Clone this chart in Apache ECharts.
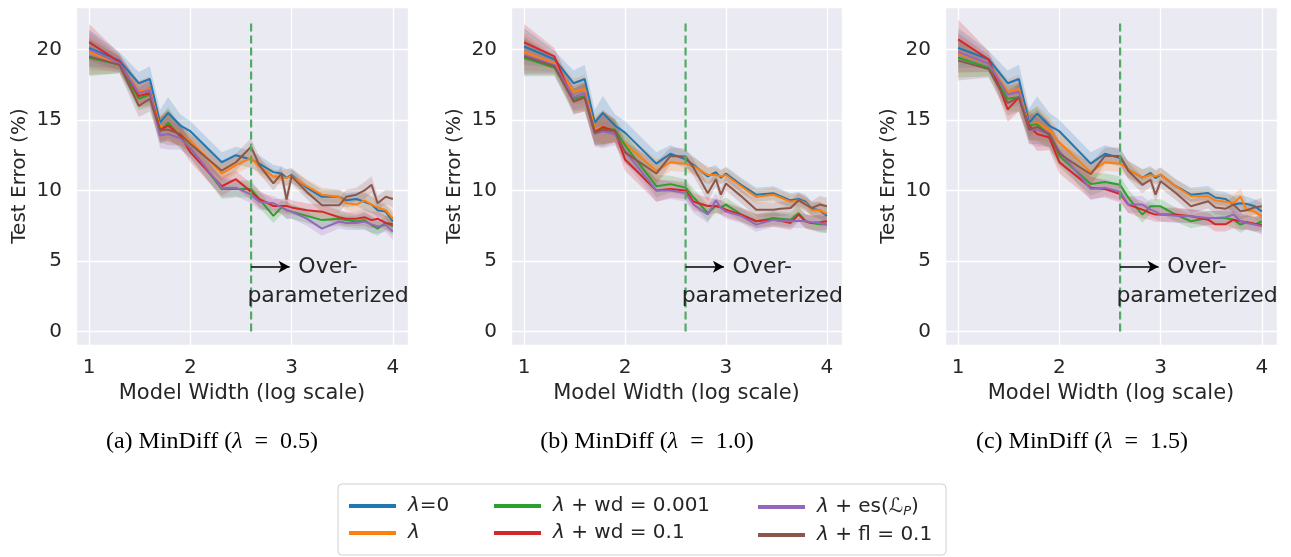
<!DOCTYPE html>
<html>
<head>
<meta charset="utf-8">
<script src="https://cdn.jsdelivr.net/npm/echarts@6/dist/echarts.min.js"></script>
<style>
html,body{margin:0;padding:0;background:#fff;}
#chart{width:1291px;height:557px;}
</style>
</head>
<body>
<div id="chart"></div>
<script>
// ---------- DATA ----------
const X = [1.0, 1.3, 1.49, 1.6, 1.7, 1.78, 1.9, 2.0, 2.31, 2.45, 2.6, 2.68, 2.82, 2.9, 2.95, 3.0, 3.15, 3.3, 3.47, 3.54, 3.64, 3.72, 3.79, 3.85, 3.93, 4.0];

const SERIES_NAMES = ['λ=0', 'λ', 'λ + wd = 0.001', 'λ + wd = 0.1', 'λ + es(ℒP)', 'λ + fl = 0.1'];

// Panel (a) MinDiff λ = 0.5
const A_LAMBDA0 = [20.1, 19.2, 17.6, 17.9, 14.8, 15.5, 14.6, 14.2, 12.0, 12.5, 12.2, 11.9, 11.3, 11.2, 10.9, 11.1, 10.2, 9.55, 9.55, 9.3, 9.4, 9.2, 9.0, 8.6, 8.5, 7.8];
const A_LAMBDA  = [19.8, 19.0, 17.0, 17.2, 14.5, 14.6, 14.0, 13.5, 11.2, 11.8, 12.3, 11.7, 11.0, 10.9, 10.9, 11.0, 10.3, 9.7, 9.55, 9.1, 9.0, 9.3, 9.0, 8.8, 8.6, 8.0];
const A_WD001   = [19.4, 18.9, 16.5, 16.8, 14.2, 14.8, 13.8, 13.0, 10.1, 10.1, 10.1, 9.4, 8.2, 8.8, 8.6, 8.5, 8.2, 7.9, 8.0, 7.9, 7.8, 7.9, 7.55, 7.3, 7.7, 7.45];
const A_WD01    = [20.5, 19.1, 16.7, 16.9, 14.3, 14.6, 13.9, 12.7, 10.3, 10.8, 9.9, 9.4, 8.9, 8.9, 8.9, 8.8, 8.6, 8.5, 8.1, 8.0, 8.0, 8.1, 7.9, 8.0, 7.7, 7.6];
const A_ES      = [20.0, 19.0, 16.9, 17.1, 13.9, 14.0, 13.7, 13.0, 10.2, 10.2, 9.7, 9.2, 9.1, 8.8, 8.6, 8.5, 8.0, 7.3, 7.8, 7.7, 7.7, 7.8, 7.6, 7.45, 7.55, 7.1];
const A_FL      = [19.5, 18.9, 16.0, 16.5, 14.3, 14.3, 14.0, 13.3, 11.4, 12.0, 13.1, 11.8, 10.5, 11.2, 9.35, 11.0, 9.9, 8.95, 8.95, 9.55, 9.7, 10.0, 10.4, 9.1, 9.55, 9.4];
const A_SPREAD  = [1.3, 0.6, 0.8, 0.9, 0.9, 1.1, 0.8, 0.7, 0.7, 0.6, 0.6, 0.6, 0.5, 0.5, 0.6, 0.5, 0.5, 0.5, 0.5, 0.5, 0.5, 0.6, 0.6, 0.5, 0.5, 0.6];

// Panel (b) MinDiff λ = 1.0
const B_LAMBDA0 = [20.2, 19.3, 17.6, 17.9, 14.8, 15.5, 14.6, 14.1, 11.9, 12.6, 12.2, 11.8, 11.0, 11.3, 10.9, 11.2, 10.4, 9.7, 9.8, 9.6, 9.3, 9.4, 9.2, 8.7, 8.6, 8.2];
const B_LAMBDA  = [19.8, 19.0, 17.0, 17.2, 14.4, 14.5, 14.2, 13.3, 11.4, 12.0, 11.9, 11.7, 11.1, 11.1, 11.0, 11.1, 10.3, 9.55, 9.7, 9.5, 9.2, 9.3, 9.1, 8.6, 8.6, 8.35];
const B_WD001   = [19.4, 18.7, 16.5, 16.7, 14.2, 14.4, 14.3, 13.2, 10.3, 10.45, 10.2, 9.5, 8.4, 8.9, 8.8, 9.0, 8.3, 7.82, 8.05, 8.0, 7.93, 8.4, 7.8, 7.7, 7.6, 7.58];
const B_WD01    = [20.5, 19.5, 16.3, 16.6, 14.1, 14.5, 14.2, 12.2, 10.0, 10.1, 10.0, 9.2, 8.9, 8.9, 8.8, 8.64, 8.29, 7.82, 7.93, 7.85, 7.7, 8.29, 7.82, 7.7, 7.75, 7.82];
const B_ES      = [19.6, 18.9, 16.6, 16.9, 14.0, 14.2, 14.0, 12.8, 10.0, 10.0, 9.82, 9.0, 8.3, 9.3, 8.76, 8.5, 8.2, 7.58, 7.93, 7.85, 7.82, 7.85, 7.82, 7.75, 7.7, 7.58];
const B_FL      = [19.5, 18.8, 16.3, 16.6, 14.1, 14.3, 14.2, 12.7, 11.2, 12.45, 12.4, 11.6, 9.8, 10.8, 9.7, 10.5, 9.6, 8.64, 8.64, 8.7, 8.76, 9.3, 9.0, 8.76, 9.0, 8.88];
const B_SPREAD  = [1.3, 0.6, 0.9, 1.0, 0.9, 1.2, 0.8, 0.8, 0.8, 0.6, 0.6, 0.6, 0.6, 0.5, 0.5, 0.5, 0.5, 0.5, 0.5, 0.5, 0.5, 0.5, 0.5, 0.5, 0.6, 0.6];

// Panel (c) MinDiff λ = 1.5
const C_LAMBDA0 = [20.1, 19.3, 17.6, 17.9, 14.8, 15.45, 14.6, 14.2, 11.9, 12.6, 12.3, 11.5, 10.9, 11.24, 10.88, 11.12, 10.3, 9.7, 9.82, 9.5, 9.4, 9.0, 9.1, 9.05, 8.88, 8.52];
const C_LAMBDA  = [19.7, 19.0, 17.0, 17.2, 14.6, 14.8, 14.3, 13.4, 11.3, 12.0, 11.9, 11.5, 10.9, 11.1, 11.0, 11.12, 10.3, 9.59, 9.59, 9.3, 9.2, 9.11, 9.55, 8.64, 8.5, 8.17];
const C_WD001   = [19.4, 18.7, 16.5, 16.6, 14.6, 14.7, 13.9, 12.45, 10.45, 10.6, 10.4, 9.5, 8.29, 8.88, 8.88, 8.88, 8.29, 7.82, 8.05, 8.05, 8.05, 7.93, 7.58, 7.75, 7.58, 7.82];
const C_WD01    = [20.7, 19.3, 15.75, 16.6, 14.6, 14.0, 13.75, 12.0, 10.2, 10.1, 9.75, 9.0, 8.64, 8.4, 8.29, 8.29, 8.29, 8.17, 7.93, 7.6, 7.6, 7.93, 7.82, 7.75, 7.65, 7.58];
const C_ES      = [19.8, 19.0, 16.8, 17.0, 14.3, 14.3, 14.0, 12.8, 10.1, 10.2, 9.9, 9.0, 9.0, 8.64, 8.5, 8.29, 8.2, 8.17, 8.05, 8.05, 8.1, 8.29, 7.82, 7.7, 7.58, 7.46];
const C_FL      = [19.2, 18.6, 16.2, 16.6, 14.3, 14.5, 14.0, 12.6, 11.15, 12.45, 12.45, 11.4, 10.4, 10.76, 9.7, 10.65, 9.82, 8.88, 9.23, 8.8, 8.7, 9.0, 8.52, 8.6, 8.8, 8.88];
const C_SPREAD  = [1.4, 0.6, 0.9, 1.0, 1.0, 1.2, 0.9, 0.8, 0.8, 0.6, 0.6, 0.6, 0.6, 0.5, 0.5, 0.5, 0.5, 0.5, 0.5, 0.5, 0.5, 0.6, 0.6, 0.5, 0.5, 0.6];

const X_TICKS = [1, 2, 3, 4];
const Y_TICKS = [0, 5, 10, 15, 20];
const CAPTION_LETTERS = ['a', 'b', 'c'];
const CAPTION_LAMBDAS = ['0.5', '1.0', '1.5'];

// annotation (data coordinates)
const VLINE_X = 2.6;
const VLINE_Y = [0, 22];
const ARROW_FROM = [2.6, 4.6];
const ARROW_TO = [2.98, 4.6];
const ANNOT_POS = [3.36, 3.5];
const ANNOT_TEXT = 'Over-\nparameterized';

// ---------- STYLE / LAYOUT ----------
const COLORS = ['#1f77b4', '#ff7f0e', '#2ca02c', '#d62728', '#9467bd', '#8c564b'];
const PANELS = [
  { vals: [A_LAMBDA0, A_LAMBDA, A_WD001, A_WD01, A_ES, A_FL], spread: A_SPREAD, left: 76, width: 332, cap: 212 },
  { vals: [B_LAMBDA0, B_LAMBDA, B_WD001, B_WD01, B_ES, B_FL], spread: B_SPREAD, left: 511, width: 331, cap: 647 },
  { vals: [C_LAMBDA0, C_LAMBDA, C_WD001, C_WD01, C_ES, C_FL], spread: C_SPREAD, left: 945, width: 332, cap: 1082 }
];
const TEXT_COLOR = '#262626';
const FONT = 'DejaVu Sans';

const grids = [], xAxes = [], yAxes = [], series = [], graphics = [];

PANELS.forEach((p, pi) => {
  grids.push({ left: p.left, top: 7, width: p.width, height: 338, show: true, backgroundColor: '#EAEAF2', borderWidth: 0 });
  xAxes.push({
    gridIndex: pi, type: 'value', min: 0.87, max: 4.15, minInterval: 1, maxInterval: 1,
    axisLine: { show: false }, axisTick: { show: false },
    splitLine: { show: true, lineStyle: { color: '#ffffff', width: 1.3 } },
    axisLabel: { fontSize: 20, color: TEXT_COLOR, margin: 13, fontFamily: FONT,
      formatter: v => X_TICKS.some(t => Math.abs(t - v) < 1e-6) ? String(Math.round(v)) : '' },
    name: 'Model Width (log scale)', nameLocation: 'middle', nameGap: 38,
    nameTextStyle: { fontSize: 21, color: TEXT_COLOR, fontFamily: FONT }
  });
  yAxes.push({
    gridIndex: pi, type: 'value', min: -0.95, max: 23, minInterval: 5, maxInterval: 5,
    axisLine: { show: false }, axisTick: { show: false },
    splitLine: { show: true, lineStyle: { color: '#ffffff', width: 1.3 } },
    axisLabel: { fontSize: 20, color: TEXT_COLOR, margin: 14, fontFamily: FONT,
      formatter: v => Y_TICKS.some(t => Math.abs(t - v) < 1e-6) ? String(Math.round(v)) : '' },
    name: 'Test Error (%)', nameLocation: 'middle', nameGap: 46,
    nameTextStyle: { fontSize: 20, color: TEXT_COLOR, fontFamily: FONT }
  });

  // confidence bands
  p.vals.forEach((vals, k) => {
    series.push({
      type: 'custom', xAxisIndex: pi, yAxisIndex: pi, silent: true, z: 1, clip: true,
      data: [[X[0], vals[0]]],
      renderItem: (params, api) => {
        const up = X.map((x, i) => api.coord([x, vals[i] + p.spread[i]]));
        const lo = X.map((x, i) => api.coord([x, vals[i] - p.spread[i]])).reverse();
        return { type: 'polygon', shape: { points: up.concat(lo) },
          style: { fill: COLORS[k], opacity: 0.2 } };
      }
    });
  });
  // mean lines
  p.vals.forEach((vals, k) => {
    series.push({
      type: 'line', name: SERIES_NAMES[k], xAxisIndex: pi, yAxisIndex: pi, z: 3,
      data: X.map((x, i) => [x, vals[i]]),
      symbol: 'none', showSymbol: false, color: COLORS[k],
      lineStyle: { width: 2, color: COLORS[k] }, silent: true
    });
  });
  // dashed vertical line + annotation
  series.push({
    type: 'line', name: '_vline' + pi, xAxisIndex: pi, yAxisIndex: pi, z: 4, silent: true,
    data: VLINE_Y.map(y => [VLINE_X, y]),
    symbol: 'none', lineStyle: { width: 2.2, color: '#55a868', type: [8, 4] },
    markLine: {
      silent: true, symbol: ['none', 'arrow'], symbolSize: [9, 11], animation: false,
      lineStyle: { color: '#000', width: 1.5, type: 'solid' }, label: { show: false },
      data: [[{ coord: ARROW_FROM }, { coord: ARROW_TO }]]
    },
    markPoint: {
      silent: true, symbol: 'circle', symbolSize: 1, itemStyle: { color: 'rgba(0,0,0,0)' }, animation: false,
      label: { show: true, position: 'inside', formatter: ANNOT_TEXT, fontSize: 22, lineHeight: 29,
        color: TEXT_COLOR, fontFamily: FONT, align: 'center' },
      data: [{ coord: ANNOT_POS }]
    }
  });

  graphics.push({
    type: 'text', x: p.cap, y: 442, z: 10,
    style: {
      text: '{n|(' + CAPTION_LETTERS[pi] + ') MinDiff (}{i|λ}{n|  =  ' + CAPTION_LAMBDAS[pi] + ')}',
      align: 'center', verticalAlign: 'middle',
      rich: {
        n: { fontFamily: 'Liberation Serif', fontSize: 24, fill: '#000', color: '#000' },
        i: { fontFamily: 'Liberation Serif', fontStyle: 'italic', fontSize: 24, fill: '#000', color: '#000' }
      }
    }
  });
});

// legend box
graphics.push({
  type: 'rect', z: -1, shape: { x: 338, y: 484, width: 608, height: 71, r: 4 },
  style: { fill: '#ffffff', stroke: '#d0d0d0', lineWidth: 1 }
});

const legendRich = {
  g: { width: 7 },
  l: { fontFamily: FONT, fontStyle: 'italic', fontSize: 20, color: TEXT_COLOR, lineHeight: 24 },
  t: { fontFamily: FONT, fontSize: 20, color: TEXT_COLOR, lineHeight: 24 },
  L: { fontFamily: FONT, fontSize: 20, color: TEXT_COLOR, lineHeight: 24 },
  p: { fontFamily: FONT, fontStyle: 'italic', fontSize: 13, color: TEXT_COLOR, lineHeight: 24, padding: [9, 0, 0, 0] }
};
function legendFmt(name) {
  if (name === 'λ + es(ℒP)') return '{g|}{l|λ}{t| + es(}{L|ℒ}{p|P}{t|)}';
  return '{g|}{l|λ}{t|' + name.slice(1) + '}';
}
const LEGEND_LEFT = [344, 489, 753];
const legends = [0, 1, 2].map(c => ({
  orient: 'vertical', left: LEGEND_LEFT[c], top: 491,
  data: [SERIES_NAMES[2 * c], SERIES_NAMES[2 * c + 1]],
  icon: 'rect', itemWidth: 47, itemHeight: 4, itemGap: 7, selectedMode: false,
  textStyle: { fontSize: 20, color: TEXT_COLOR, fontFamily: FONT, rich: legendRich },
  formatter: legendFmt
}));

const chart = echarts.init(document.getElementById('chart'), null, { renderer: 'canvas' });
chart.setOption({
  animation: false,
  textStyle: { fontFamily: FONT },
  grid: grids, xAxis: xAxes, yAxis: yAxes,
  legend: legends,
  series: series,
  graphic: graphics
});
</script>
</body>
</html>
